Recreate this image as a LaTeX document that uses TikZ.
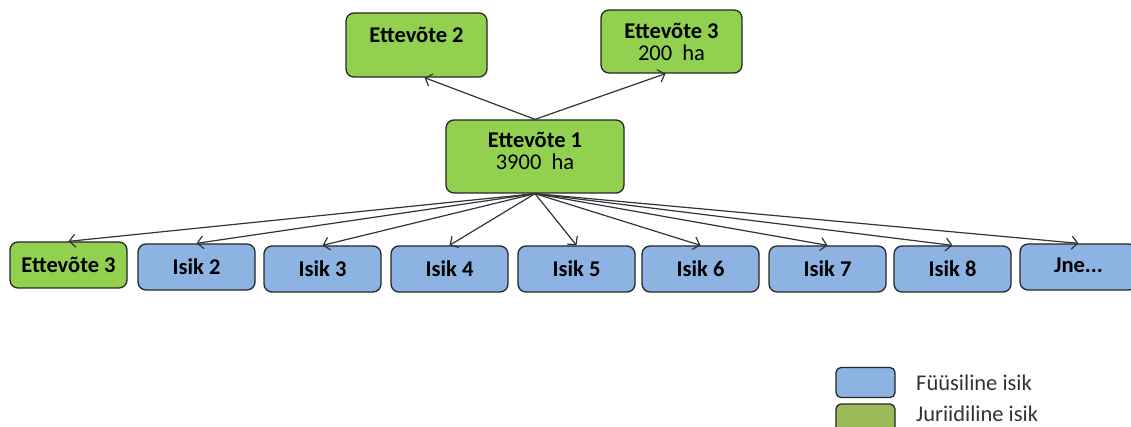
\documentclass[tikz,border=0pt]{standalone}
\usepackage{fontspec}
\setmainfont{Carlito}
\usetikzlibrary{
  arrows.meta,
  positioning
}

\definecolor{firmgreen}{HTML}{92D050}
\definecolor{personblue}{HTML}{8DB3E2}
\definecolor{leggreen}{HTML}{9BBB59}

\begin{document}
\begin{tikzpicture}[
      x=1pt, y=-1pt,
      box/.style={
         rectangle,
         rounded corners=8pt,
         line width=1.3pt,
         draw=black!85,
         minimum width=117pt,
         minimum height=46pt,
         inner sep=2pt,
         font=\fontsize{22.5}{25}\selectfont\bfseries
      },
      firm/.style={box, fill=firmgreen},
      person/.style={box, fill=personblue},
      lbl/.style={font=\fontsize{22.5}{25}\selectfont\bfseries, align=center},
      legbox/.style={
         rectangle,
         rounded corners=5pt,
         line width=1.3pt,
         draw=black!85,
         minimum width=59pt,
         minimum height=30pt
      },
      legtext/.style={font=\fontsize{22.5}{25}\selectfont, text=black!80, inner ysep=0pt},
      link/.style={->, line width=1.2pt, draw=black!80},
      >={Straight Barb[length=6pt,width=13pt]}
    ]
    \useasboundingbox (0,0) rectangle (1131,427);
    \clip (0,0) rectangle (1131,427);
    % upper level
    \node (e2) [firm, minimum width=141pt, minimum height=64pt,
       label={[lbl, yshift=10pt]center:Ettevõte 2}] at (416.5,45) {};
    \node (e3a) [firm, minimum width=141pt, minimum height=63pt, align=center] at (671.5,41.5)
       {Ettevõte 3\\[-3pt]{\mdseries 200~~ha}};
    \node (e1) [firm, minimum width=178pt, minimum height=73pt,
       label={[lbl, yshift=6pt]center:Ettevõte 1\\[-3pt]{\mdseries 3900~~ha}}] at (535,156.5) {};
    % lower level
    \node (e3b) [firm] at (68.5,265) {Ettevõte 3};
    \node (i2) [person] at (196.5,267) {Isik 2};
    \node (i3) [person] at (322.5,269) {Isik 3};
    \node (i4) [person] at (449.5,269) {Isik 4};
    \node (i5) [person] at (576.5,269) {Isik 5};
    \node (i6) [person] at (700.5,269) {Isik 6};
    \node (i7) [person] at (827.5,269) {Isik 7};
    \node (i8) [person] at (952.5,269) {Isik 8};
    \node (jne) [person] at (1078.5,267) {\raisebox{3pt}{Jne...}};
    % connectors
    \draw[link] (e1.north) -- ([xshift=8pt]e2.south);
    \draw[link] (e1.north) -- ([xshift=-6pt]e3a.south);
    \foreach \t in {e3b,i2,i3,i4,i5,i6,i7,i8,jne}
       \draw[link] (e1.south) -- (\t.north);
    % legend
    \node (kf) [legbox, fill=personblue] at (865.5,382.5) {};
    \node (kj) [legbox, fill=leggreen] at (865.5,419) {};
    \node (tf) [legtext, right=17pt of kf] {Füüsiline isik};
    \node (tj) [legtext, right=17pt of kj, yshift=5pt] {Juriidiline isik};
\end{tikzpicture}
\end{document}
